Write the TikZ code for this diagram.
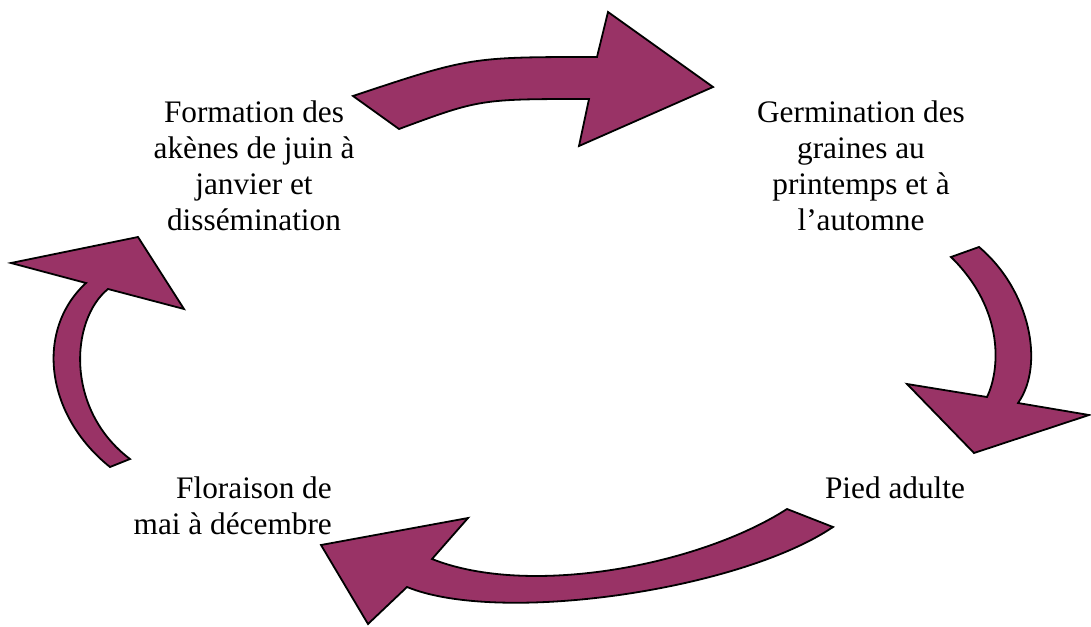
\documentclass[tikz,border=0pt]{standalone}
\usepackage{fontspec}
\setmainfont{Liberation Serif}
\usetikzlibrary{positioning}
\definecolor{plum}{RGB}{153,51,102}
\tikzstyle{blk}=[draw=black,fill=plum,line width=1.8pt,line join=miter]
\tikzstyle{lbl}=[align=center,inner sep=0pt,font=\fontsize{31.3}{36}\selectfont]

\begin{document}
\begin{tikzpicture}[x=1pt,y=-1pt]
\useasboundingbox (0,0) rectangle (1091,626);
\node[lbl] (formation) at (254,166) {Formation des\\akènes de juin à\\janvier et\\dissémination};
\node[lbl] (germination) at (861,166) {Germination des\\graines au\\printemps et à\\l’automne};
\node[lbl] (pied) at (895,488) {Pied adulte};
\node[lbl, align=right, anchor=east] (floraison) at (332,506) {Floraison de\\mai à décembre};
\draw[blk] (353,96) .. controls (470,57) .. (597,57) -- (608,12) -- (713,87) -- (579,146) -- (589,99) .. controls (480,99) .. (399,129) -- cycle;
\draw[blk] (951,257) -- (979,247) .. controls (1030,290) and (1045,365) .. (1018,403) -- (1089,415) -- (974,453) -- (907,384) -- (987,397) .. controls (1000,370) and (1005,310) .. (951,257) -- cycle;
\draw[blk] (787,509) -- (833,527) .. controls (740,590) and (500,625) .. (407,587) -- (368,624) -- (321,545) -- (468,518) -- (432,559) .. controls (530,598) and (700,565) .. (787,509) -- cycle;
\draw[blk] (110,467) .. controls (45,415) and (35,330) .. (86,283) -- (11,263) -- (138,237) -- (184,309) -- (108,289) .. controls (70,320) and (65,410) .. (130,459) -- cycle;
\end{tikzpicture}
\end{document}
